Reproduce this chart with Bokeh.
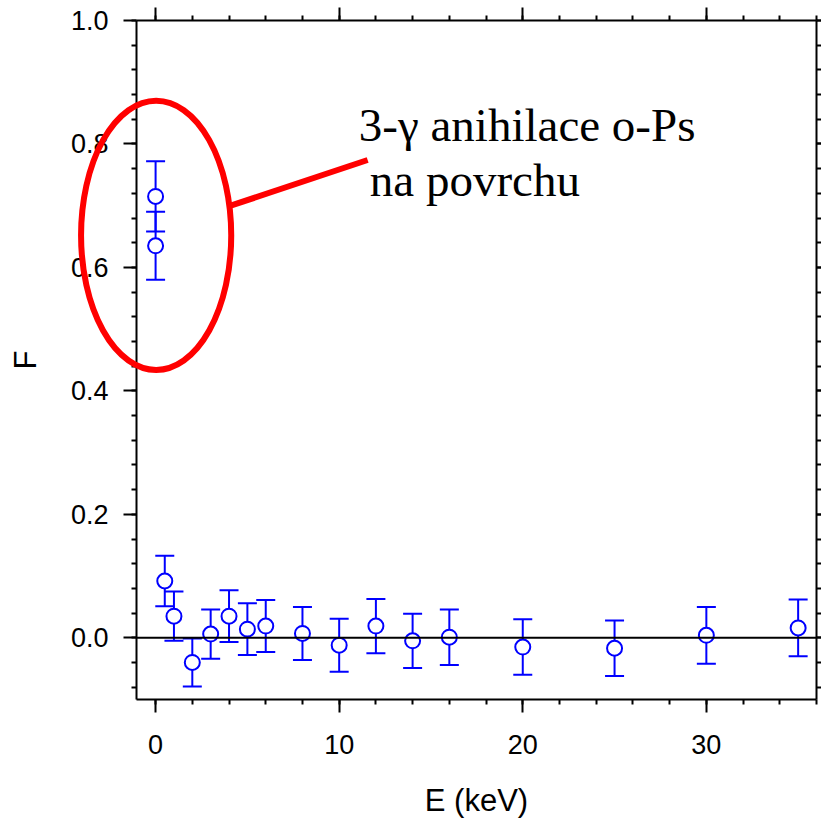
from bokeh.plotting import figure
from bokeh.models import (ColumnDataSource, Whisker, TeeHead, Span, LinearAxis,
                          Range1d, SingleIntervalTicker, PrintfTickFormatter,
                          CustomJSTickFormatter)
from bokeh.core.properties import value
from bokeh.embed import file_html
from bokeh.resources import INLINE

# ---- data ----
energy = [0, 0, 0.5, 1, 2, 3, 4, 5, 6, 8, 10, 12, 14, 16, 20, 25, 30, 35]
f_val = [0.715, 0.635, 0.092, 0.035, -0.040, 0.006, 0.035, 0.014, 0.019,
         0.007, -0.012, 0.019, -0.005, 0.001, -0.015, -0.017, 0.004, 0.016]
f_err = [0.057, 0.055, 0.041, 0.040, 0.039, 0.040, 0.042, 0.042, 0.042,
         0.043, 0.043, 0.044, 0.044, 0.045, 0.045, 0.045, 0.046, 0.046]

x_label = "E (keV)"
y_label = "F"
note_line1 = "3-\u03b3 anihilace o-Ps"
note_line2 = "na povrchu"

# annotation geometry (data units)
ell_x, ell_y, ell_w, ell_h = [0.03], [0.652], [8.18], [0.436]
pointer_x = [4.09, 11.55]
pointer_y = [0.700, 0.774]
note1_x, note1_y = [11.07], [0.830]
note2_x, note2_y = [11.67], [0.741]

BLUE = "#0000ff"
SANS = "Liberation Sans"
SERIF = "Liberation Serif"

src = ColumnDataSource(dict(
    x=energy, y=f_val,
    lo=[v - e for v, e in zip(f_val, f_err)],
    hi=[v + e for v, e in zip(f_val, f_err)],
))

p = figure(width=821, height=820, output_backend="svg", toolbar_location=None,
           x_range=Range1d(-1.04, 36.0), y_range=Range1d(-0.1, 1.0),
           min_border_left=136, min_border_right=5, min_border_top=20,
           min_border_bottom=121)
p.xgrid.visible = False
p.ygrid.visible = False
p.outline_line_color = None
p.background_fill_color = "white"
p.border_fill_color = "white"

blank = CustomJSTickFormatter(code="return ''")


def style_axis(ax, labels=True):
    ax.axis_line_width = 2
    ax.axis_line_color = "black"
    ax.major_tick_line_width = 2
    ax.minor_tick_line_width = 2
    ax.major_tick_line_color = "black"
    ax.minor_tick_line_color = "black"
    ax.major_tick_out = 13
    ax.major_tick_in = 0
    ax.minor_tick_out = 5
    ax.minor_tick_in = 0
    ax.major_label_text_font = SANS
    ax.major_label_text_font_size = "27px" if labels else "0px"
    ax.major_label_text_color = "black"
    ax.axis_label_text_font = SANS
    ax.axis_label_text_font_size = "31px"
    ax.axis_label_text_font_style = "normal"
    ax.axis_label_text_color = "black"
    if not labels:
        ax.major_label_standoff = 0
        ax.formatter = blank


p.xaxis.ticker = SingleIntervalTicker(interval=10, num_minor_ticks=5)
p.yaxis.ticker = SingleIntervalTicker(interval=0.2, num_minor_ticks=5)
style_axis(p.xaxis[0])
style_axis(p.yaxis[0])
p.yaxis.formatter = PrintfTickFormatter(format="%.1f")
p.xaxis.axis_label = x_label
p.yaxis.axis_label = y_label
p.xaxis.major_label_standoff = 22
p.xaxis.axis_label_standoff = 26
p.yaxis.major_label_standoff = 15
p.yaxis.axis_label_standoff = 25

top_ax = LinearAxis(ticker=SingleIntervalTicker(interval=10, num_minor_ticks=5))
style_axis(top_ax, labels=False)
p.add_layout(top_ax, "above")
right_ax = LinearAxis(ticker=SingleIntervalTicker(interval=0.2, num_minor_ticks=5))
style_axis(right_ax, labels=False)
right_ax.major_tick_out = 5
right_ax.minor_tick_out = 5
p.add_layout(right_ax, "right")

# zero line
p.add_layout(Span(location=0, dimension="width", line_color="black", line_width=2))

# error bars
p.add_layout(Whisker(source=src, base="x", upper="hi", lower="lo", dimension="height",
                     line_color=BLUE, line_width=2,
                     upper_head=TeeHead(size=19, line_color=BLUE, line_width=2),
                     lower_head=TeeHead(size=19, line_color=BLUE, line_width=2)))
p.scatter("x", "y", source=src, marker="circle", size=15, fill_color="white",
          line_color=BLUE, line_width=2)

# annotation: ellipse (overlay level, so it may extend past the frame) + pointer + text
p.ellipse(x=ell_x, y=ell_y, width=ell_w, height=ell_h, fill_color=None,
          line_color="#ff0000", line_width=6, level="overlay")
p.line(pointer_x, pointer_y, line_color="#ff0000", line_width=6)
p.text(x=note1_x, y=note1_y, text=[note_line1], text_font=value(SERIF),
       text_font_size="47px", text_color="black", text_baseline="alphabetic")
p.text(x=note2_x, y=note2_y, text=[note_line2], text_font=value(SERIF),
       text_font_size="47px", text_color="black", text_baseline="alphabetic")

open("out.html", "w").write(file_html(p, INLINE))
